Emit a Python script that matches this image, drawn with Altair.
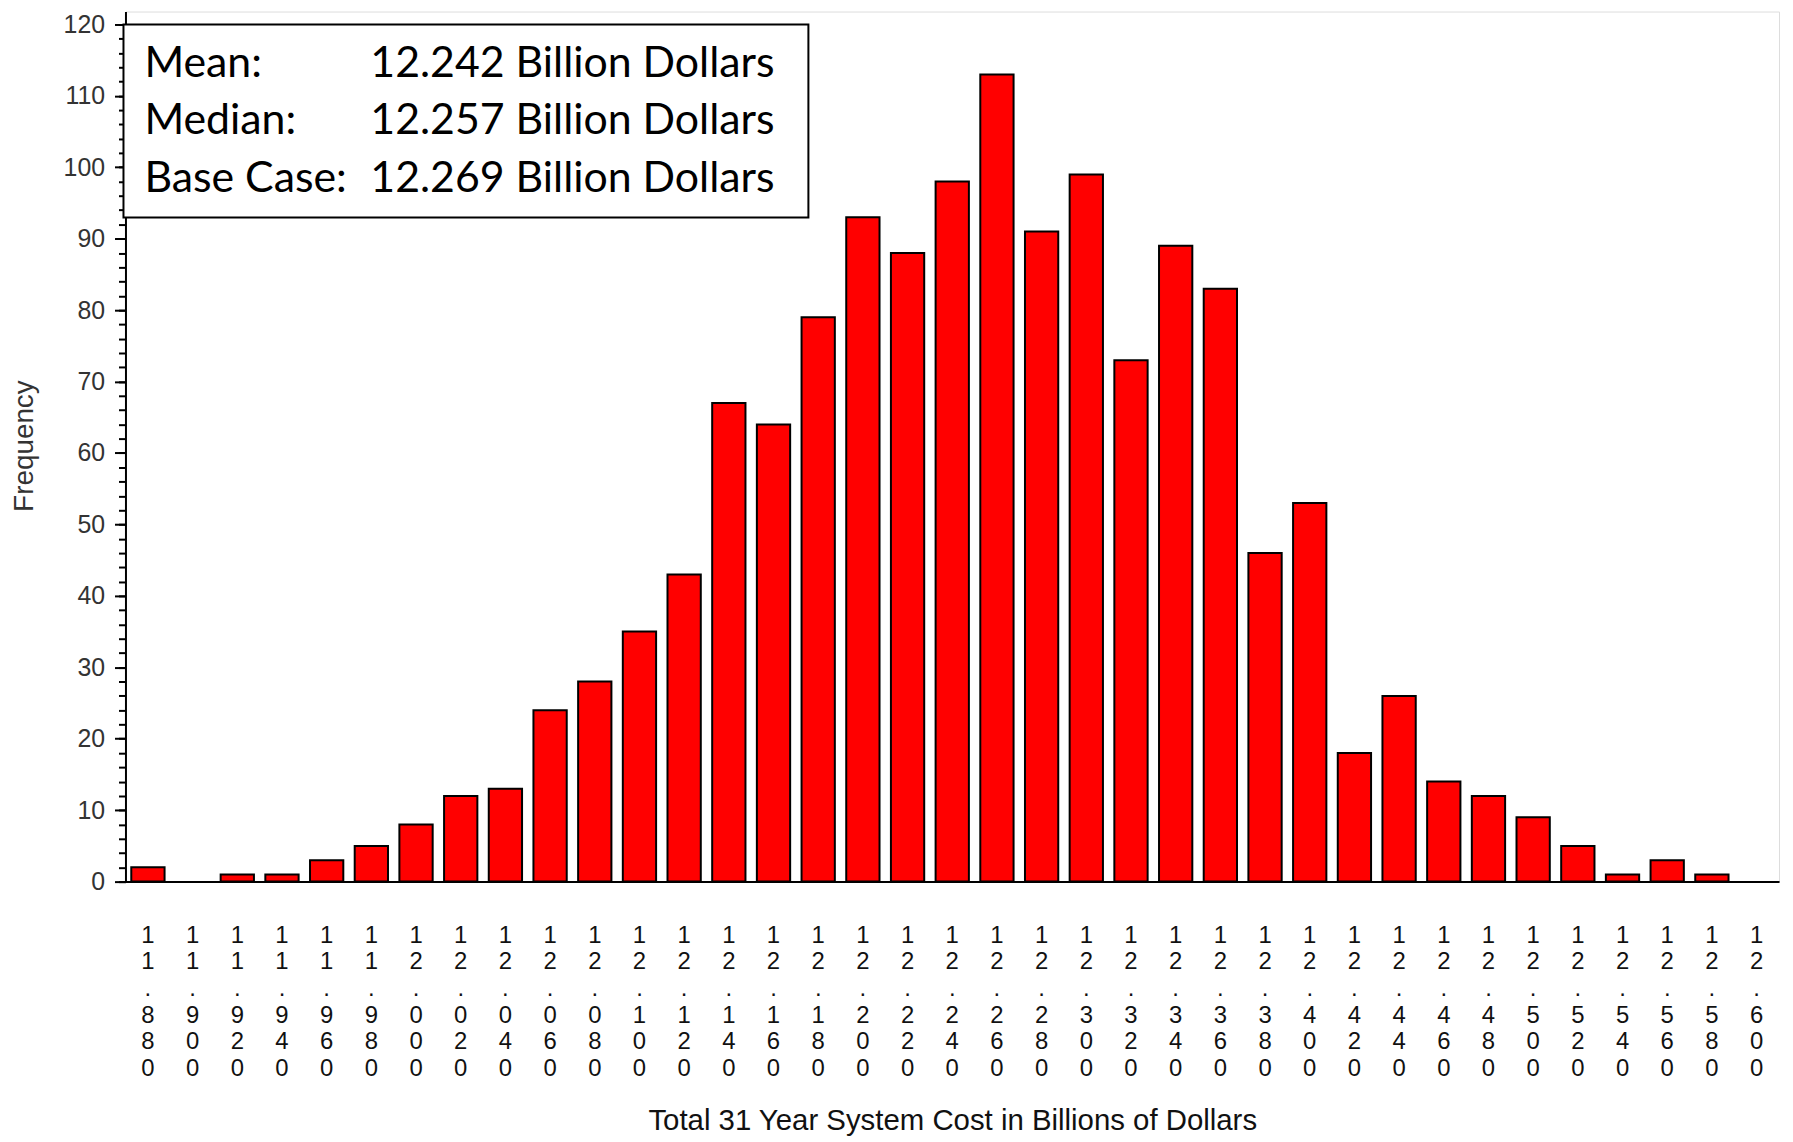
import altair as alt
import pandas as pd

bin_labels = ["11.880", "11.900", "11.920", "11.940", "11.960", "11.980",
              "12.000", "12.020", "12.040", "12.060", "12.080", "12.100",
              "12.120", "12.140", "12.160", "12.180", "12.200", "12.220",
              "12.240", "12.260", "12.280", "12.300", "12.320", "12.340",
              "12.360", "12.380", "12.400", "12.420", "12.440", "12.460",
              "12.480", "12.500", "12.520", "12.540", "12.560", "12.580",
              "12.600"]
frequency = [2, 0, 1, 1, 3, 5, 8, 12, 13, 24, 28, 35, 43, 67, 64, 79, 93, 88,
             98, 113, 91, 99, 73, 89, 83, 46, 53, 18, 26, 14, 12, 9, 5, 1, 3,
             1, 0]
stat_names = ["Mean:", "Median:", "Base Case:"]
stat_values = ["12.242 Billion Dollars", "12.257 Billion Dollars",
               "12.269 Billion Dollars"]
y_major = list(range(0, 121, 10))
y_minor = list(range(0, 121, 2))

df = pd.DataFrame({"bin": bin_labels, "freq": frequency})
stats = pd.DataFrame({"row": [0, 1, 2], "name": stat_names, "value": stat_values})

FONT = "Liberation Sans"
YMAX = 121.8

xenc = alt.X("bin:N", sort=bin_labels,
             scale=alt.Scale(domain=bin_labels, paddingInner=0.255,
                             paddingOuter=0.13),
             axis=alt.Axis(labelExpr="split(datum.label, '')", labelAngle=0,
                           labelFontSize=24, labelLineHeight=26.7,
                           labelFont=FONT, labelColor="#111",
                           labelBaseline="top", labelPadding=42,
                           ticks=False, domainColor="black", domainWidth=2,
                           title="Total 31 Year System Cost in Billions of Dollars",
                           titleFont=FONT, titleFontSize=29.5,
                           titleFontWeight="normal", titleColor="#111",
                           titleY=240, titleBaseline="middle"))

bars = alt.Chart(df).mark_bar(color="#FF0000", stroke="black",
                              strokeWidth=2).encode(
    x=xenc,
    y=alt.Y("freq:Q", scale=alt.Scale(domain=[0, YMAX], nice=False),
            axis=alt.Axis(values=y_major, orient="left", grid=False,
                          labelFontSize=25, labelFont=FONT, labelColor="#333",
                          labelPadding=10, tickSize=11, tickWidth=2,
                          tickColor="black", domainColor="black",
                          domainWidth=2, title="Frequency", titleFont=FONT,
                          titleFontSize=28, titleFontWeight="normal",
                          titleColor="#333", titleAngle=-90, titleX=-101,
                          titleY=436, titleAlign="center",
                          titleBaseline="middle"))
).transform_filter("datum.freq > 0")

minor = alt.Chart(df).mark_tick(opacity=0).encode(
    y=alt.Y("freq:Q", scale=alt.Scale(domain=[0, YMAX], nice=False),
            axis=alt.Axis(values=y_minor, orient="left", grid=False,
                          labels=False, tickSize=7, tickWidth=2,
                          tickColor="black", domain=False, title=None))
)

box = alt.Chart(stats).mark_rect(fill="white", stroke="black",
                                 strokeWidth=2).encode(
    x=alt.value(-2), x2=alt.value(686), y=alt.value(13), y2=alt.value(207)
).transform_filter("datum.row == 0")

ypos = alt.Y("row:O", scale=alt.Scale(type="point", range=[53, 168],
                                       padding=0), axis=None)

names = alt.Chart(stats).mark_text(align="left", baseline="middle",
                                   font="Lato", fontSize=43,
                                   color="black").encode(
    x=alt.value(19), y=ypos, text="name:N")

values = alt.Chart(stats).mark_text(align="left", baseline="middle",
                                    font="Lato", fontSize=43,
                                    color="black").encode(
    x=alt.value(246), y=ypos, text="value:N")

chart = alt.layer(bars, minor, box, names, values).resolve_scale(
    y="independent"
).properties(
    width=1661, height=874,
    autosize=alt.AutoSizeParams(type="none"),
    padding={"left": 118, "top": 1, "right": 6, "bottom": 258},
).configure_view(stroke="#222", strokeWidth=2).configure(background="white")

chart.save("out.html", embed_options={"renderer": "svg", "actions": False})
